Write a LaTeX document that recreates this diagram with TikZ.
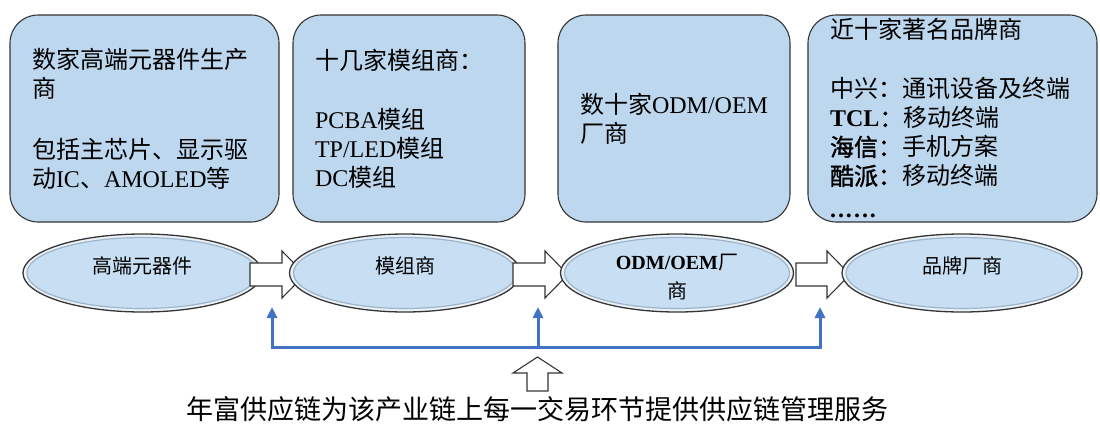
\documentclass[tikz,border=0pt]{standalone}
\usepackage{fontspec}
\setmainfont{Noto Sans CJK SC}
\newfontfamily\lt{Liberation Serif}
\newfontfamily\cjkb{Noto Sans CJK SC}[FakeBold=1.5]
\usetikzlibrary{shapes.geometric,arrows.meta}
\definecolor{boxfill}{HTML}{BDD7EE}
\definecolor{edge}{HTML}{353535}
\definecolor{ellfill}{HTML}{C8DEF3}
\definecolor{ring}{HTML}{E9F1F9}
\definecolor{ringline}{HTML}{9FB4C8}
\definecolor{linkblue}{HTML}{4472C4}
\tikzset{
  infobox/.style={draw=edge, line width=1.1pt, fill=boxfill, rounded corners=28pt,
    inner xsep=22pt, inner ysep=0pt, align=left, minimum height=207pt,
    font=\fontsize{24}{29}\selectfont},
  ellouter/.style={ellipse, draw=edge, line width=1.3pt, fill=ring, inner sep=0pt, minimum height=78pt},
  ellinner/.style={ellipse, draw=ringline, line width=1.2pt, fill=ellfill, inner sep=0pt, minimum height=71pt},
  elltext/.style={font=\fontsize{20}{29}\selectfont, align=center, inner sep=0pt},
  blockarrow/.style={draw=edge, line width=1.1pt, fill=white, line join=miter},
  bluelink/.style={draw=linkblue, line width=3pt, -{Triangle[width=10pt,length=11pt]}},
}
\newcommand\barrow[3]{%
  \draw[blockarrow] (#1,263) -- (#2,263) -- (#2,251) -- (#3,274.5) -- (#2,298) -- (#2,286) -- (#1,286) -- cycle;}
\newcommand\mydots{{\lt\bfseries .\kern2pt.\kern2pt.\kern2pt.\kern2pt.\kern2pt.}}
\begin{document}
\begin{tikzpicture}[x=1pt,y=-1pt]
\fill[white] (0,0) rectangle (1100,423);
\useasboundingbox (0,0) rectangle (1100,423);

% top boxes
\node[infobox, text width=225pt] (b1) at (144.5,118.5)
  {数家高端元器件生产\\商\\[32pt]包括主芯片、显示驱\\动{\lt IC}、{\lt AMOLED}等};
\node[infobox, text width=188pt] (b2) at (409,118.5)
  {十几家模组商：\\[30pt]{\lt PCBA}模组\\{\lt TP/LED}模组\\{\lt DC}模组};
\node[infobox, text width=188pt] (b3) at (674,118.5)
  {数十家{\lt ODM/OEM}\\厂商};
\node[infobox, text width=245pt] (b4) at (952.5,118.5)
  {近十家著名品牌商\\[30pt]中兴：通讯设备及终端\\{\lt\bfseries TCL}{\cjkb ：}移动终端\\{\cjkb 海信：}手机方案\\{\cjkb 酷派：}移动终端\\[4pt]\mydots};

% ellipses and block arrows
\node[ellouter, minimum width=239pt] (e1) at (142.5,273) {};
\node[ellinner, minimum width=231pt] (e1i) at (e1) {};
\node[elltext] (t1) at ([yshift=7pt]e1.center) {高端元器件};
\barrow{250}{282}{305}
\node[ellouter, minimum width=231pt] (e2) at (405,273) {};
\node[ellinner, minimum width=223pt] (e2i) at (e2) {};
\node[elltext] (t2) at ([yshift=7pt]e2.center) {模组商};
\barrow{513}{545}{568}
\node[ellouter, minimum width=233pt] (e3) at (677,273) {};
\node[ellinner, minimum width=225pt] (e3i) at (e3) {};
\node[elltext] (t3) at ([yshift=-4pt]e3.center) {{\lt\bfseries ODM/OEM}厂\\商};
\barrow{796}{827}{850}
\node[ellouter, minimum width=240pt] (e4) at (962,273) {};
\node[ellinner, minimum width=232pt] (e4i) at (e4) {};
\node[elltext] (t4) at ([yshift=7pt]e4.center) {品牌厂商};

% blue service links
\coordinate (hub) at (538,347);
\coordinate (s1) at (272,307);
\coordinate (s2) at (538,307);
\coordinate (s3) at (820,307);
\draw[bluelink] (hub) -| (s1);
\draw[bluelink] (hub) -- (s2);
\draw[bluelink] (hub) -| (s3);

% hollow up arrow
\draw[blockarrow] (527,391) -- (527,373) -- (513,373) -- (537.5,357) -- (562,373) -- (548,373) -- (548,391) -- cycle;

\node[font=\fontsize{27}{30}\selectfont, inner sep=0pt] (cap) at (537.5,409)
  {年富供应链为该产业链上每一交易环节提供供应链管理服务};
\end{tikzpicture}
\end{document}
